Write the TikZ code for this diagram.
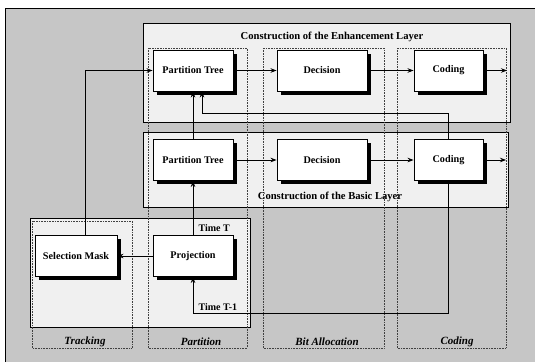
\documentclass[tikz,border=0pt]{standalone}
\usepackage{fontspec}
\setmainfont{Liberation Serif}
\usetikzlibrary{arrows.meta,shadows}
\begin{document}
\begin{tikzpicture}[x=1pt,y=-1pt,
 blk/.style={draw, fill=white, line width=0.9pt, minimum height=41pt, inner sep=0pt,
   font=\fontsize{10.2}{12}\selectfont\bfseries,
   drop shadow={shadow xshift=3.5pt, shadow yshift=-3.5pt, fill=black, opacity=1}},
 layer/.style={draw, line width=0.7pt, fill=gray!12},
 col/.style={draw=black!75, densely dotted, line width=0.6pt},
 arr/.style={-{Stealth[length=6pt,width=4.5pt]}, line width=0.8pt},
 lab/.style={font=\fontsize{10}{12}\selectfont\bfseries},
 ttl/.style={font=\fontsize{10.6}{12}\selectfont\bfseries},
 colcaption/.style={font=\fontsize{11}{13}\selectfont\bfseries\itshape}
]
\useasboundingbox (0,0) rectangle (535,362);
% background
\fill[gray!45] (5,8) rectangle (535,362);
\draw[line width=0.7pt] (5,362) -- (5,8) -- (535,8);
% layers
\draw[layer] (143,23) rectangle (510,122);
\draw[layer] (143,132) rectangle (508,207);
\draw[layer] (30,218) rectangle (250,327);
% dotted columns
\draw[col] (32,221) rectangle (132,348);
\draw[col] (148,48) rectangle (247,348);
\draw[col] (263,48) rectangle (384,348);
\draw[col] (397,48) rectangle (506,348);
% titles
\node[ttl] (te) at (332,37) {Construction of the Enhancement Layer};
\node[ttl] (tb) at (330,197) {Construction of the Basic Layer};
% blocks
\node[blk, minimum width=80pt] (pte) at (193,70.5) {Partition Tree};
\node[blk, minimum width=90pt] (dece) at (322,70.5) {Decision};
\node[blk, minimum width=69pt] (code) at (448.5,70.5) {Coding};
\node[blk, minimum width=80pt] (ptb) at (193,160) {Partition Tree};
\node[blk, minimum width=90pt] (decb) at (322,160) {Decision};
\node[blk, minimum width=69pt] (codb) at (448.5,160) {Coding};
\node[blk, minimum width=82pt] (sel) at (76,256) {Selection Mask};
\node[blk, minimum width=80pt] (proj) at (193,256) {Projection};
% outputs
\coordinate (oute) at (507,70.5);
\coordinate (outb) at (506,160);
% connectors
\draw[arr] (pte) -- (dece);
\draw[arr] (dece) -- (code);
\draw[arr] (code) -- (oute);
\draw[arr] (ptb) -- (decb);
\draw[arr] (decb) -- (codb);
\draw[arr] (codb) -- (outb);
\draw[arr] (proj) -- (sel);
\draw[arr] (proj.north) -- (ptb.south);
\draw[arr] (ptb.north) -- (pte.south);
\draw[arr] ([xshift=9pt]sel.north) |- (pte.west);
\draw[arr] (codb.north) -- ++(0,-26) -| ([xshift=9pt]pte.south);
\draw[arr] (codb.south) -- ++(0,132) -| (proj.south);
% labels
\node[lab, anchor=west] (tt) at (195,228) {Time T};
\node[lab, anchor=west] (tt1) at (195,307) {Time T-1};
\node[colcaption] (c1) at (85,342) {Tracking};
\node[colcaption] (c2) at (201,342) {Partition};
\node[colcaption] (c3) at (327,342) {Bit Allocation};
\node[colcaption] (c4) at (457,342) {Coding};
\end{tikzpicture}
\end{document}
